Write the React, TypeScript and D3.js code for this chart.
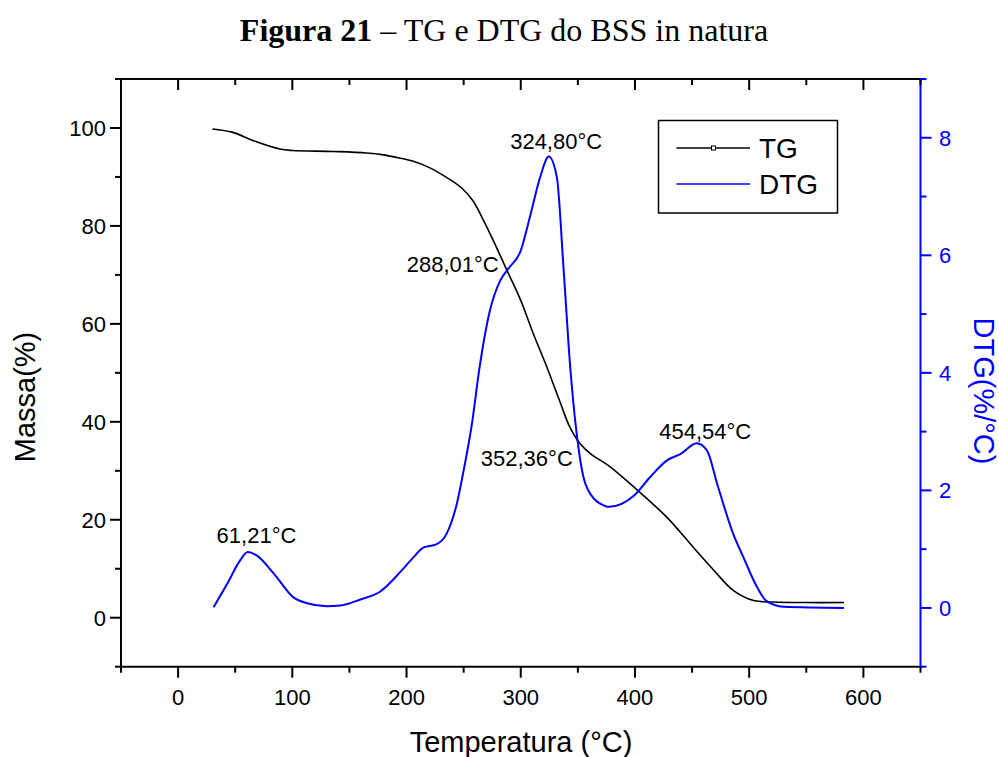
import React from "react";
import * as d3 from "d3";

// ---- data ----
const tgTemp = [30, 48, 66, 89, 100, 136, 165, 180, 195, 206, 220, 235, 248, 258, 267, 276, 288, 300, 311, 323, 334, 343, 352, 362, 376, 399, 428, 451, 469, 486, 504, 521, 550, 583];
const tgMass = [99.8, 99.1, 97.4, 95.7, 95.4, 95.2, 94.9, 94.5, 93.8, 93.2, 91.9, 89.9, 87.8, 85.2, 81.3, 77.0, 70.9, 64.8, 58.0, 51.1, 44.3, 38.9, 35.5, 33.3, 31.2, 26.7, 20.5, 14.4, 9.7, 5.6, 3.5, 3.2, 3.1, 3.1];

const dtgTemp = [31, 43, 54, 61, 69, 84, 101, 113, 130, 142, 159, 177, 194, 206, 215, 226, 235, 244, 250, 257, 264, 273, 282, 289, 300, 308, 317, 324.5, 331.6, 337.4, 343.3, 349, 355, 364, 370, 377, 399, 413, 428, 440, 454, 463, 472, 486, 495, 507, 515, 530, 583];
const dtgVal = [0.01, 0.41, 0.8, 0.95, 0.89, 0.58, 0.18, 0.08, 0.03, 0.04, 0.14, 0.28, 0.6, 0.86, 1.03, 1.08, 1.26, 1.77, 2.34, 3.1, 4.1, 5.06, 5.57, 5.77, 6.08, 6.65, 7.33, 7.68, 7.33, 5.8, 4.1, 2.96, 2.22, 1.86, 1.77, 1.72, 1.91, 2.22, 2.51, 2.62, 2.8, 2.68, 2.11, 1.26, 0.86, 0.35, 0.12, 0.02, 0.0];

const annoText = ["324,80°C", "288,01°C", "352,36°C", "454,54°C", "61,21°C"];
const annoTemp = [331, 240.4, 305.3, 461.5, 68.6];
const annoDtg = [7.81, 5.71, 2.42, 2.88, 1.1];

const xMajor = [0, 100, 200, 300, 400, 500, 600];
const xMinor = [-50, 50, 150, 250, 350, 450, 550, 650];
const yMajor = [0, 20, 40, 60, 80, 100];
const yMinor = [-10, 10, 30, 50, 70, 90, 110];
const y2Major = [0, 2, 4, 6, 8];
const y2Minor = [-1, 1, 3, 5, 7, 9];

const BLUE = "#0000ff";
const SANS = "'Liberation Sans', Arial, sans-serif";

export default function App() {
  const L = 121, R = 920.5, T = 79, B = 666.7;
  const x = d3.scaleLinear().domain([-50, 650]).range([L, R]);
  const y = d3.scaleLinear().domain([-10, 110]).range([B, T]);
  const y2 = d3.scaleLinear().domain([-1, 9]).range([B, T]);

  const tgLine = d3
    .line<number>()
    .x((_, i) => x(tgTemp[i]))
    .y((d) => y(d))
    .curve(d3.curveCatmullRom.alpha(0.5))(tgMass) || "";
  const dtgLine = d3
    .line<number>()
    .x((_, i) => x(dtgTemp[i]))
    .y((d) => y2(d))
    .curve(d3.curveMonotoneX)(dtgVal) || "";

  const MAJ = 11, MIN = 6;

  return (
    <svg
      width={999}
      height={757}
      style={{ position: "absolute", left: 0, top: 0, background: "#fff" }}
    >
      <rect x={0} y={0} width={999} height={757} fill="#fff" />
      {/* title */}
      <text x={504} y={41} textAnchor="middle" fontFamily="'Liberation Serif', 'Times New Roman', serif" fontSize={32} fill="#000">
        <tspan fontWeight="bold">Figura 21</tspan>
        <tspan> – TG e DTG do BSS in natura</tspan>
      </text>

      {/* curves */}
      <path d={tgLine} fill="none" stroke="#000" strokeWidth={1.6} />
      <path d={dtgLine} fill="none" stroke={BLUE} strokeWidth={2} />

      {/* axes lines */}
      <line x1={L} x2={R} y1={T} y2={T} stroke="#000" strokeWidth={2} />
      <line x1={L} x2={R} y1={B} y2={B} stroke="#000" strokeWidth={2} />
      <line x1={L} x2={L} y1={T - 1} y2={B + 1} stroke="#000" strokeWidth={2} />
      <line x1={R} x2={R} y1={T - 1} y2={B + 1} stroke={BLUE} strokeWidth={2} />

      {/* bottom & top ticks */}
      {xMajor.map((v) => (
        <g key={"xb" + v}>
          <line x1={x(v)} x2={x(v)} y1={B} y2={B + MAJ} stroke="#000" strokeWidth={2} />
          <line x1={x(v)} x2={x(v)} y1={T} y2={T + MAJ} stroke="#000" strokeWidth={2} />
          <text x={x(v)} y={705} textAnchor="middle" fontFamily={SANS} fontSize={22} fill="#000">
            {v}
          </text>
        </g>
      ))}
      {xMinor.map((v) => (
        <g key={"xm" + v}>
          <line x1={x(v)} x2={x(v)} y1={B} y2={B + MIN} stroke="#000" strokeWidth={2} />
          <line x1={x(v)} x2={x(v)} y1={T} y2={T + MIN} stroke="#000" strokeWidth={2} />
        </g>
      ))}

      {/* left ticks */}
      {yMajor.map((v) => (
        <g key={"yl" + v}>
          <line x1={L - MAJ} x2={L} y1={y(v)} y2={y(v)} stroke="#000" strokeWidth={2} />
          <text x={106} y={y(v) + 8} textAnchor="end" fontFamily={SANS} fontSize={22} fill="#000">
            {v}
          </text>
        </g>
      ))}
      {yMinor.map((v) => (
        <line key={"ym" + v} x1={L - MIN} x2={L} y1={y(v)} y2={y(v)} stroke="#000" strokeWidth={2} />
      ))}

      {/* right ticks */}
      {y2Major.map((v) => (
        <g key={"yr" + v}>
          <line x1={R} x2={R + MAJ} y1={y2(v)} y2={y2(v)} stroke={BLUE} strokeWidth={2} />
          <text x={939} y={y2(v) + 8} textAnchor="start" fontFamily={SANS} fontSize={22} fill={BLUE}>
            {v}
          </text>
        </g>
      ))}
      {y2Minor.map((v) => (
        <line key={"y2m" + v} x1={R} x2={R + MIN} y1={y2(v)} y2={y2(v)} stroke={BLUE} strokeWidth={2} />
      ))}

      {/* axis titles */}
      <text x={521} y={752} textAnchor="middle" fontFamily={SANS} fontSize={29} fill="#000">
        Temperatura (°C)
      </text>
      <text
        transform={`translate(35,397) rotate(-90)`}
        textAnchor="middle"
        fontFamily={SANS}
        fontSize={29}
        fill="#000"
      >
        Massa(%)
      </text>
      <text
        transform={`translate(974,391) rotate(90)`}
        textAnchor="middle"
        fontFamily={SANS}
        fontSize={29}
        fill={BLUE}
      >
        DTG(%/°C)
      </text>

      {/* annotations */}
      {annoText.map((t, i) => (
        <text
          key={t}
          x={x(annoTemp[i])}
          y={y2(annoDtg[i])}
          textAnchor="middle"
          fontFamily={SANS}
          fontSize={22}
          fill="#000"
        >
          {t}
        </text>
      ))}

      {/* legend */}
      <rect x={658.5} y={120.5} width={179} height={92.5} fill="#fff" stroke="#000" strokeWidth={1.5} />
      <line x1={676.5} x2={750} y1={148} y2={148} stroke="#000" strokeWidth={1.3} />
      <rect x={711.5} y={146} width={4} height={4} fill="#fff" stroke="#000" strokeWidth={1} />
      <text x={759} y={158} fontFamily={SANS} fontSize={28} fill="#000">
        TG
      </text>
      <line x1={676.5} x2={750} y1={184} y2={184} stroke={BLUE} strokeWidth={1.3} />
      <text x={759} y={194} fontFamily={SANS} fontSize={28} fill="#000">
        DTG
      </text>
    </svg>
  );
}
